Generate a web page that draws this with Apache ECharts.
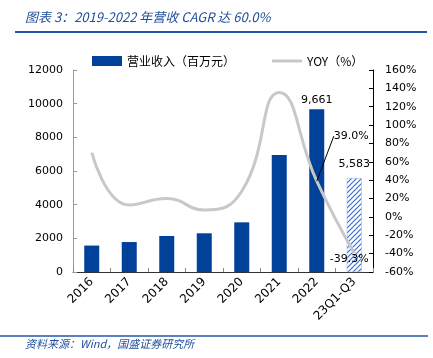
<!DOCTYPE html>
<html><head><meta charset="utf-8">
<script src="https://cdn.jsdelivr.net/npm/echarts@6/dist/echarts.min.js"></script>
<style>html,body{margin:0;padding:0;background:#fff}#c{width:433px;height:358px}</style>
</head><body><div id="c"></div>
<script>
var categories = ['2016','2017','2018','2019','2020','2021','2022','23Q1-Q3'];
var revenue = [1570, 1780, 2140, 2300, 2950, 6950, 9661, 5583];
var yoy = [70, 13, 20, 7.5, 28, 135.6, 39.0, -39.3];
var leftTicks = [0, 12000, 2000];
var rightTicks = [-60, 160, 20];

var pc = document.createElement('canvas');
pc.width = 5; pc.height = 5;
var g = pc.getContext('2d');
g.fillStyle = '#fff'; g.fillRect(0,0,5,5);
g.strokeStyle = '#3a6fd0'; g.lineWidth = 1.2;
g.beginPath(); g.moveTo(-1,6); g.lineTo(6,-1); g.stroke();
g.beginPath(); g.moveTo(-1,1); g.lineTo(1,-1); g.stroke();
g.beginPath(); g.moveTo(4,6); g.lineTo(6,4); g.stroke();

var font = 'DejaVu Sans';
var cjk = 'Noto Sans CJK SC';
var chart = echarts.init(document.getElementById('c'), null, {renderer:'canvas'});
var barData = revenue.map(function(v,i){
  var item = {value: v};
  if (i === categories.length - 1) {
    item.itemStyle = {color: {image: pc, repetition: 'repeat'}, borderColor:'#9db4e0', borderWidth:0.5};
    item.label = {show: true, distance: 8};
  } else if (i === 6) {
    item.label = {show: true, distance: 4};
  }
  return item;
});
var lineData = yoy.map(function(v,i){
  var item = {value: v};
  if (i === 6) {
    item.label = {show:true, position:'right', distance:5};
  } else if (i === 7) {
    item.label = {show:true, position:'inside'};
    item.labelLine = {show:false};
  }
  return item;
});
chart.setOption({
  animation: false,
  textStyle: {fontFamily: font},
  graphic: [
    {type:'text', left:25, top:11, style:{text:'图表 3：2019-2022 年营收 CAGR 达 60.0%', font:'italic 13px "'+cjk+'"', fill:'#1f4e9c'}},
    {type:'line', shape:{x1:15,y1:32,x2:427,y2:32}, style:{stroke:'#2356a8', lineWidth:2}},
    {type:'line', shape:{x1:0,y1:336,x2:428,y2:336}, style:{stroke:'#2356a8', lineWidth:1.5}},
    {type:'text', left:25, top:338, style:{text:'资料来源：Wind，国盛证券研究所', font:'italic 11px "'+cjk+'"', fill:'#1f4e9c'}}
  ],
  legend: {
    top: 50, left: 87, itemWidth: 30, itemHeight: 10, itemGap: 37,
    textStyle: {fontFamily: cjk, fontSize: 12, color:'#000'},
    data: [{name:'营业收入（百万元）', icon:'rect'},
           {name:'YOY（%）', icon:'path://M0,0L30,0L30,3L0,3Z', itemStyle:{color:'#c8c8c8'}}]
  },
  grid: {left:73, right:60, top:70, bottom:86},
  xAxis: {
    type:'category', data: categories,
    axisLine:{lineStyle:{color:'#333'}},
    axisTick:{show:true, inside:true, length:4, lineStyle:{color:'#888'}},
    axisLabel:{rotate:45, fontSize:12, color:'#000', fontFamily:font, margin:8}
  },
  yAxis: [
    {type:'value', min:leftTicks[0], max:leftTicks[1], interval:leftTicks[2],
     splitLine:{show:false},
     axisLine:{show:true, lineStyle:{color:'#999'}},
     axisTick:{show:true, inside:true, length:4, lineStyle:{color:'#999'}},
     axisLabel:{fontSize:11, color:'#000', fontFamily:font, margin:10, formatter:function(v){return String(v);}}},
    {type:'value', min:rightTicks[0], max:rightTicks[1], interval:rightTicks[2],
     splitLine:{show:false},
     axisLine:{show:true, lineStyle:{color:'#000'}},
     axisTick:{show:true, inside:true, length:4, lineStyle:{color:'#000'}},
     axisLabel:{fontSize:11, color:'#000', fontFamily:font, margin:12, formatter:'{value}%'}}
  ],
  series: [
    {name:'营业收入（百万元）', type:'bar', data: barData, barWidth:'40%',
     itemStyle:{color:'#00419a'},
     label:{show:false, position:'top', fontSize:11, color:'#000', fontFamily:font,
       formatter:function(p){return p.value.toLocaleString('en-US');}}},
    {name:'YOY（%）', type:'line', yAxisIndex:1, data: lineData, smooth:0.5,
     symbol:'circle', symbolSize:0.1, showSymbol:true,
     lineStyle:{color:'#c8c8c8', width:3}, itemStyle:{color:'#c8c8c8'},
     z: 3,
     labelLine:{show:true, lineStyle:{color:'#000', width:1}},
     labelLayout: function(p){
       if (p.dataIndex === 6) return {dx:12, dy:-45};
       if (p.dataIndex === 7) return {dx:-5, dy:6};
       return {};
     },
     label:{show:false, fontSize:11, color:'#000', fontFamily:font,
       formatter:function(p){return p.value.toFixed(1)+'%';}}}
  ]
});
</script></body></html>
